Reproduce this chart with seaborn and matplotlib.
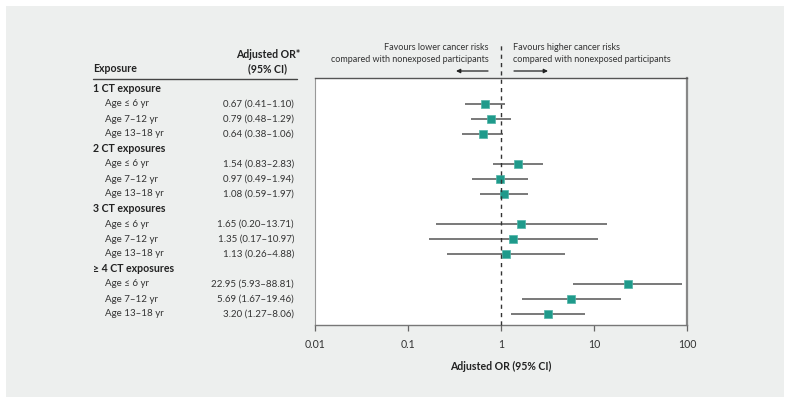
import matplotlib
matplotlib.use("Agg")
import matplotlib.pyplot as plt
import matplotlib.transforms as mtrans
from matplotlib.patches import Rectangle, FancyArrowPatch
import seaborn as sns
import pandas as pd
import numpy as np

sns.set_theme(style="white")
plt.rcParams['font.family'] = ['Lato', 'DejaVu Sans']

groups = ["1 CT exposure", "2 CT exposures", "3 CT exposures", "\u2265 4 CT exposures"]
ages = ["Age \u2264 6 yr", "Age 7\u201312 yr", "Age 13\u201318 yr"]
or_vals = [0.67, 0.79, 0.64, 1.54, 0.97, 1.08, 1.65, 1.35, 1.13, 22.95, 5.69, 3.20]
ci_low = [0.41, 0.48, 0.38, 0.83, 0.49, 0.59, 0.20, 0.17, 0.26, 5.93, 1.67, 1.27]
ci_high = [1.10, 1.29, 1.06, 2.83, 1.94, 1.97, 13.71, 10.97, 4.88, 88.81, 19.46, 8.06]
tick_vals = [0.01, 0.1, 1, 10, 100]
tick_labels = ["0.01", "0.1", "1", "10", "100"]

W, H = 791, 404
def fx(p): return p / W
def fy(p): return 1 - p / H

# build rows
rows = []
labels = []
pos = 0
k = 0
for g in groups:
    labels.append((pos, g, True, None))
    pos += 1
    for a in ages:
        rows.append(dict(pos=pos, OR=or_vals[k], lo=ci_low[k], hi=ci_high[k]))
        txt = f"{or_vals[k]:.2f} ({ci_low[k]:.2f}\u2013{ci_high[k]:.2f})"
        labels.append((pos, a, False, txt))
        pos += 1
        k += 1
df = pd.DataFrame(rows)

fig = plt.figure(figsize=(W / 100, H / 100), dpi=100)
fig.patch.set_facecolor("white")
fig.patches.append(Rectangle((fx(6), fy(397)), fx(784) - fx(6), fy(6) - fy(397),
                             transform=fig.transFigure, facecolor="#edefee",
                             edgecolor="none", zorder=-10))

ax = fig.add_axes([fx(315), fy(325), fx(687) - fx(315), fy(78) - fy(325)])
ax.set_facecolor("white")
ax.set_xscale("log")
ax.set_xlim(0.01, 100)
y_top = (78 - 89) / 15
y_bot = (325 - 89) / 15
ax.set_ylim(y_bot, y_top)

ax.hlines(df["pos"], df["lo"], df["hi"], color="#555555", lw=1.1, zorder=2)
sns.scatterplot(data=df, x="OR", y="pos", marker="s", s=38, color="#1f9a8b",
                edgecolor="#4fb5a8", linewidth=0.5, ax=ax, zorder=3, legend=False)

# dashed reference line, extending above axes
bt = mtrans.blended_transform_factory(ax.transData, fig.transFigure)
ax.plot([1, 1], [fy(325), fy(42)], transform=bt, color="#333333", lw=1,
        dashes=(3, 3), clip_on=False, zorder=4)

ax.set_xticks(tick_vals)
ax.set_xticklabels(tick_labels)
ax.minorticks_off()
ax.set_yticks([])
ax.set_xlabel("Adjusted OR (95% CI)", fontsize=7.6, fontweight="bold", color="#222222", labelpad=8)
ax.set_ylabel("")
ax.tick_params(axis="x", direction="out", length=4, width=0.9, color="#666666",
               labelsize=7.6, labelcolor="#333333", pad=6, bottom=True)
for side, (c, lw) in {"top": ("#555555", 1.0), "right": ("#888888", 1.6),
                      "left": ("#999999", 0.8), "bottom": ("#777777", 1.0)}.items():
    ax.spines[side].set_visible(True)
    ax.spines[side].set_color(c)
    ax.spines[side].set_linewidth(lw)

# table on the left
tt = mtrans.blended_transform_factory(fig.transFigure, ax.transData)
fs_b = 7.6
fs = 7.0
for p, lab, is_head, val in labels:
    if is_head:
        ax.text(fx(93), p, lab, transform=tt, fontsize=fs_b, fontweight="bold",
                color="#222222", va="center", ha="left", clip_on=False)
    else:
        ax.text(fx(105), p, lab, transform=tt, fontsize=fs, color="#333333",
                va="center", ha="left", clip_on=False)
        ax.text(fx(294), p, val, transform=tt, fontsize=fs, color="#333333",
                va="center", ha="right", clip_on=False)

fig.text(fx(93), fy(69), "Exposure", fontsize=fs_b, fontweight="bold", color="#222222",
         va="center", ha="left")
fig.text(fx(268), fy(55), "Adjusted OR*", fontsize=fs_b, fontweight="bold", color="#222222",
         va="center", ha="center")
fig.text(fx(268), fy(69), "(95% CI)", fontsize=fs_b, fontweight="bold", color="#222222",
         va="center", ha="center")
fig.add_artist(plt.Line2D([fx(93), fx(297)], [fy(79), fy(79)], transform=fig.transFigure,
                          color="#444444", lw=1))

# favours annotations
ffs = 6.5
fig.text(fx(489), fy(48), "Favours lower cancer risks", fontsize=ffs, color="#333333",
         ha="right", va="center")
fig.text(fx(489), fy(60), "compared with nonexposed participants", fontsize=ffs,
         color="#333333", ha="right", va="center")
fig.text(fx(513), fy(48), "Favours higher cancer risks", fontsize=ffs, color="#333333",
         ha="left", va="center")
fig.text(fx(513), fy(60), "compared with nonexposed participants", fontsize=ffs,
         color="#333333", ha="left", va="center")
arrow = dict(arrowstyle="-|>", color="#222222", lw=0.9, mutation_scale=6,
             shrinkA=0, shrinkB=0)
fig.add_artist(FancyArrowPatch((fx(488), fy(71)), (fx(456), fy(71)),
               transform=fig.transFigure, **arrow))
fig.add_artist(FancyArrowPatch((fx(514), fy(71)), (fx(548), fy(71)),
               transform=fig.transFigure, **arrow))

fig.savefig("out.png", dpi=100)
